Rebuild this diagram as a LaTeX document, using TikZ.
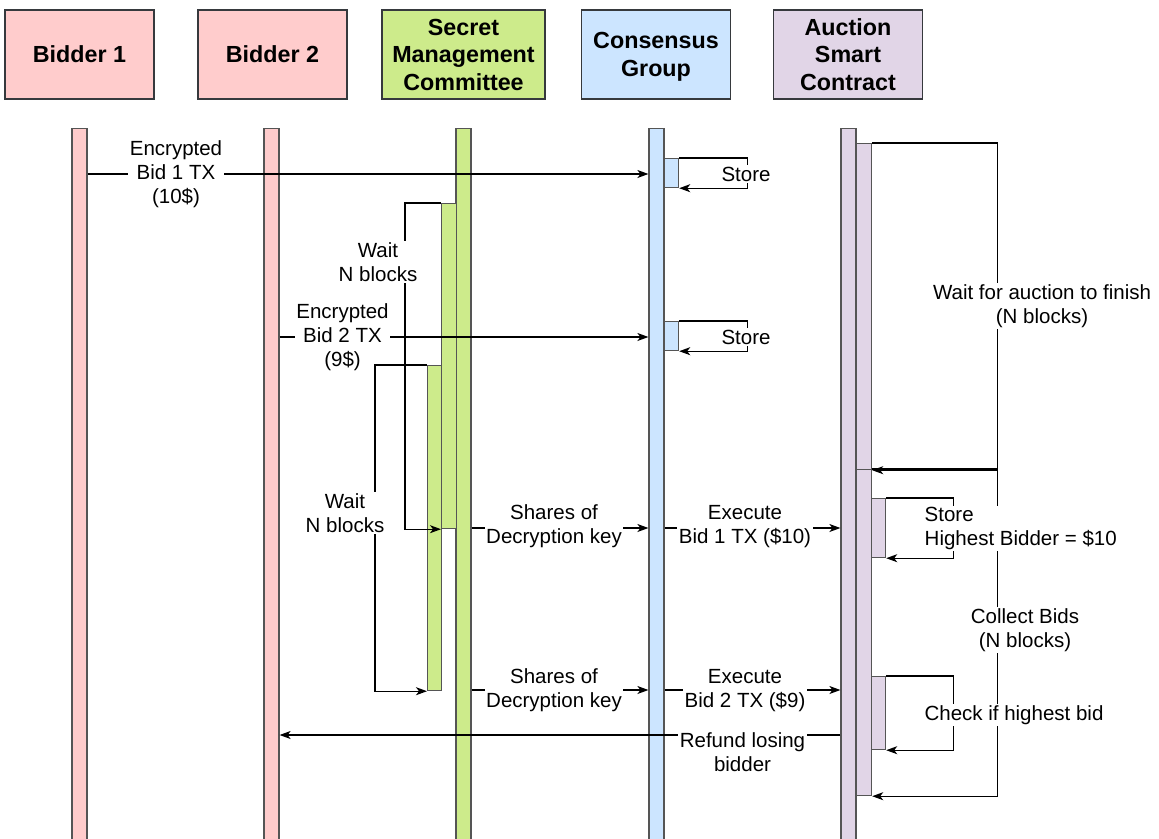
\documentclass[tikz,border=0pt]{standalone}
\usepackage{fontspec}
\setmainfont{Liberation Sans}
\usetikzlibrary{arrows.meta}
\definecolor{pinkc}{HTML}{FFCCCC}
\definecolor{greenc}{HTML}{CDEB8B}
\definecolor{bluec}{HTML}{CCE5FF}
\definecolor{purplec}{HTML}{E1D5E7}
\definecolor{edgec}{HTML}{36393D}
\definecolor{barc}{HTML}{555555}
\begin{document}
\begin{tikzpicture}[x=1pt,y=-1pt,
  head/.style={draw=edgec, line width=1.3pt, minimum width=149pt, minimum height=89pt,
    inner sep=0pt, align=center, font=\fontsize{23.3}{27.5}\selectfont\bfseries},
  lifebar/.style={draw=barc, line width=1.2pt, minimum width=15pt, minimum height=712pt,
    anchor=north, inner sep=0pt},
  actbar/.style={draw=barc, line width=1.2pt, inner sep=0pt, anchor=north west},
  msg/.style={line width=1.2pt, -{Stealth[length=11pt,width=8pt,inset=3pt]}},
  lbl/.style={fill=white, inner sep=1.5pt, align=center, font=\fontsize{20.5}{24}\selectfont},
]
\path[use as bounding box] (0,0) rectangle (1159,838);

% participants
\node[head, fill=pinkc] (H1) at (79.5,54.5) {Bidder 1};
\node[head, fill=pinkc] (H2) at (272.5,54.5) {Bidder 2};
\node[head, fill=greenc, minimum width=163pt] (H3) at (463.5,54.5) {Secret\\Management\\Committee};
\node[head, fill=bluec] (H4) at (656,54.5) {};
\node[font=\fontsize{23.3}{28}\selectfont\bfseries, align=center] (H4t) at (656,56.5) {Consensus\\Group};
\node[head, fill=purplec] (H5) at (848,54.5) {Auction\\Smart\\Contract};

% lifelines
\node[lifebar, fill=pinkc] (L1) at (79.5,128) {};
\node[lifebar, fill=pinkc] (L2) at (271.5,128) {};
\node[lifebar, fill=greenc] (L3) at (463.5,128) {};
\node[lifebar, fill=bluec] (L4) at (656.5,128) {};
\node[lifebar, fill=purplec] (L5) at (848.5,128) {};

% activation bars
\node[actbar, fill=greenc, minimum width=15pt, minimum height=325pt] (SA1) at (441,203) {};
\node[actbar, fill=greenc, minimum width=14pt, minimum height=325pt] (SA2) at (427,365) {};
\node[actbar, fill=bluec, minimum width=14pt, minimum height=29pt] (CS1) at (664,158) {};
\node[actbar, fill=bluec, minimum width=14pt, minimum height=29pt] (CS2) at (664,321) {};
\node[actbar, fill=purplec, minimum width=15pt, minimum height=326pt] (AA1) at (856,143) {};
\node[actbar, fill=purplec, minimum width=15pt, minimum height=326pt] (AA2) at (856,469) {};
\node[actbar, fill=purplec, minimum width=14pt, minimum height=59pt] (AS1) at (871,498) {};
\node[actbar, fill=purplec, minimum width=14pt, minimum height=73pt] (AS2) at (871,676) {};

% messages between participants
\draw[msg] (L1.east |- 0,174) -- (L4.west |- 0,174);
\draw[msg] (L2.east |- 0,337) -- (L4.west |- 0,337);
\node[lbl] (t2) at (342.5,337) {Encrypted\\Bid 2 TX\\(9\$)};
\draw[msg] (L3.east |- 0,528) -- (L4.west |- 0,528);
\draw[msg] (L3.east |- 0,690) -- (L4.west |- 0,690);
\draw[msg] (L4.east |- 0,528) -- (L5.west |- 0,528);
\draw[msg] (L4.east |- 0,690) -- (L5.west |- 0,690);
\draw[msg] (L5.west |- 0,735) -- (L2.east |- 0,735);

% self calls
\draw[msg] (CS1.north east) -- ++(68,0) |- (CS1.south east);
\draw[msg] (CS2.north east) -- ++(68,0) |- (CS2.south east);
\draw[msg] (SA1.north west) -- ++(-36,0) |- (SA1.south west);
\draw[msg] (SA2.north west) -- ++(-52,0) |- (SA2.south west);
\draw[msg] (AA1.north east) -- ++(125,0) |- (AA1.south east);
\draw[msg] (AA2.north east) -- ++(125,0) |- (AA2.south east);
\draw[msg] (AS1.north east) -- ++(67,0) |- (AS1.south east);
\draw[msg] (AS2.north east) -- ++(67,0) |- (AS2.south east);

% labels
\node[lbl] (t1) at (176,174) {Encrypted\\Bid 1 TX\\(10\$)};
\node[lbl] (t3) at (554,526.5) {Shares of\\Decryption key};
\node[lbl] (t4) at (554,690.5) {Shares of\\Decryption key};
\node[lbl] (t5) at (745,526.5) {Execute\\Bid 1 TX (\$10)};
\node[lbl] (t6) at (745,690.5) {Execute\\Bid 2 TX (\$9)};
\node[lbl] (t7) at (742.5,752) {Refund losing\\bidder};
\node[lbl] (s1) at (746,174) {Store};
\node[lbl] (s2) at (746,337) {Store};
\node[lbl] (w1) at (378,262) {Wait\\N blocks};
\node[lbl] (w2) at (345,513) {Wait\\N blocks};
\node[lbl] (a1) at (1042,306) {Wait for auction to finish\\(N blocks)};
\node[lbl, align=left, anchor=west] (a2) at (923,528.5) {Store\\Highest Bidder = \$10};
\node[lbl] (a3) at (1025,630) {Collect Bids\\(N blocks)};
\node[lbl] (a4) at (1014,715) {Check if highest bid};
\end{tikzpicture}
\end{document}
